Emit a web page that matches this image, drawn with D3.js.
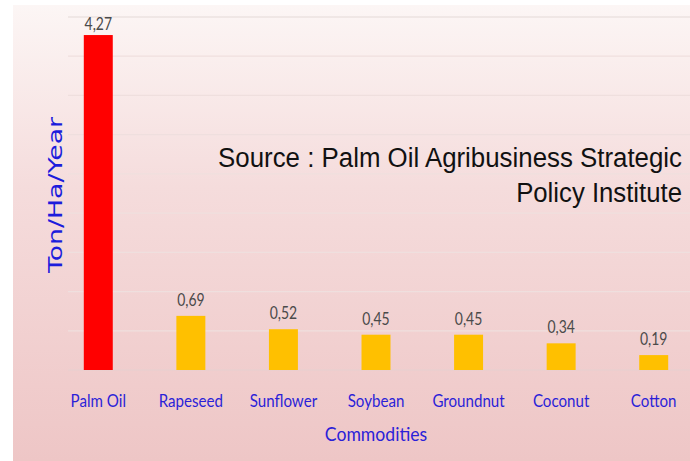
<!DOCTYPE html>
<html>
<head>
<meta charset="utf-8">
<script src="https://cdn.jsdelivr.net/npm/d3@7"></script>
<style>
  html, body { margin: 0; padding: 0; background: #fff; }
  svg { display: block; }
</style>
</head>
<body>
<svg id="chart" width="690" height="461"></svg>
<script>
// Oil crop yields.
const commodities = ["Palm Oil", "Rapeseed", "Sunflower", "Soybean", "Groundnut", "Coconut", "Cotton"];
const yields = [4.27, 0.69, 0.52, 0.45, 0.45, 0.34, 0.19];
const yLabels = ["4,27", "0,69", "0,52", "0,45", "0,45", "0,34", "0,19"];
const gridTicks = [0.5, 1, 1.5, 2, 2.5, 3, 3.5, 4, 4.5];
const sourceLines = ["Source : Palm Oil Agribusiness Strategic", "Policy Institute"];

const svg = d3.select("#chart");
const W = 690, H = 461;
const calibriLike = "Lato, 'Open Sans', sans-serif";

// squeeze a text node horizontally, Lato is wider than the slide's Calibri
function squeeze(sel, k) {
  sel.each(function () {
    const w = this.getComputedTextLength();
    d3.select(this).attr("textLength", w * k).attr("lengthAdjust", "spacingAndGlyphs");
  });
}

// slide background: soft pink gradient, white edge at left/top
const defs = svg.append("defs");
const grad = defs.append("linearGradient").attr("id", "bg").attr("x1", 0).attr("y1", 0).attr("x2", 0).attr("y2", 1);
grad.append("stop").attr("offset", "0%").attr("stop-color", "#fcf6f5");
grad.append("stop").attr("offset", "40%").attr("stop-color", "#f5dcdc");
grad.append("stop").attr("offset", "100%").attr("stop-color", "#eec6c6");
svg.append("rect").attr("x", 13).attr("y", 5).attr("width", W - 13).attr("height", H - 5).attr("fill", "url(#bg)");

const x = d3.scaleBand().domain(commodities).range([52, 700]).paddingInner(0.687).paddingOuter(0.3435);
const y = d3.scaleLinear().domain([0, 4.5]).range([370, 17]);

// gridlines, very faint on the slide
svg.append("g").selectAll("line").data(gridTicks).join("line")
  .attr("x1", 68).attr("x2", W)
  .attr("y1", d => y(d)).attr("y2", d => y(d))
  .attr("stroke", d => d === 4.5 ? "#e4dad8" : "#efdfde").attr("stroke-width", 1.2);
svg.append("line").attr("x1", 68).attr("x2", W).attr("y1", y(0)).attr("y2", y(0))
  .attr("stroke", "#e6d0d0").attr("stroke-width", 1);

// bars
svg.append("g").selectAll("rect").data(commodities).join("rect")
  .attr("x", d => x(d)).attr("width", x.bandwidth())
  .attr("y", (d, i) => y(yields[i]))
  .attr("height", (d, i) => y(0) - y(yields[i]))
  .attr("fill", (d, i) => i === 0 ? "#ff0000" : "#ffc000");

// value labels
svg.append("g").selectAll("text").data(commodities).join("text")
  .attr("x", d => x(d) + x.bandwidth() / 2)
  .attr("y", (d, i) => Math.max(30, y(yields[i]) - 10))
  .attr("text-anchor", "middle")
  .attr("font-family", calibriLike)
  .attr("font-size", 17).attr("fill", "#4a4a4a")
  .text((d, i) => yLabels[i])
  .call(squeeze, 0.82);

// category axis labels
svg.append("g").selectAll("text").data(commodities).join("text")
  .attr("x", d => x(d) + x.bandwidth() / 2)
  .attr("y", 407)
  .attr("text-anchor", "middle")
  .attr("font-family", calibriLike)
  .attr("font-size", 18).attr("fill", "#2b1fd8")
  .text(d => d)
  .call(squeeze, 0.84);

svg.append("text")
  .attr("x", 376).attr("y", 441)
  .attr("text-anchor", "middle")
  .attr("font-family", calibriLike)
  .attr("font-size", 20).attr("fill", "#2b1fd8")
  .text("Commodities")
  .call(squeeze, 0.88);

svg.append("text")
  .attr("transform", "translate(62,195) rotate(-90)")
  .attr("text-anchor", "middle")
  .attr("font-family", "'DejaVu Sans', Verdana, sans-serif")
  .attr("font-size", 19).attr("fill", "#1c1cdc")
  .attr("textLength", 156).attr("lengthAdjust", "spacingAndGlyphs")
  .text("Ton/Ha/Year");

// source note: narrow face on the slide, so scale the group horizontally
const srcWidths = [464, 166];
svg.append("g").selectAll("text").data(sourceLines).join("text")
  .attr("text-anchor", "end")
  .attr("font-family", "'Liberation Sans', Arial, sans-serif")
  .attr("font-size", 28).attr("fill", "#111")
  .text(d => d)
  .each(function (d, i) {
    const sx = srcWidths[i] / this.getComputedTextLength();
    d3.select(this).attr("transform", `translate(682,${167 + i * 35}) scale(${sx},1)`);
  });
</script>
</body>
</html>
